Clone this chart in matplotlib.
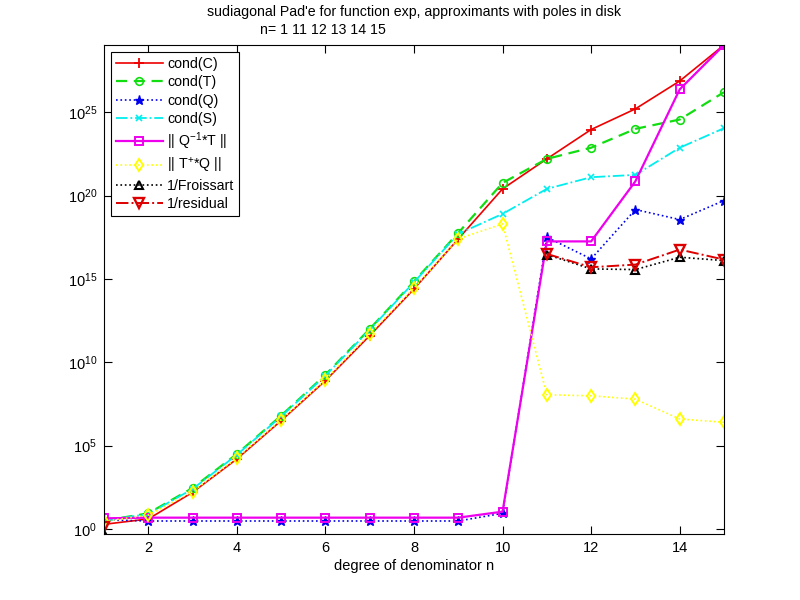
import numpy as np
import matplotlib
matplotlib.use("Agg")
import matplotlib.pyplot as plt
from matplotlib.ticker import FixedLocator, FixedFormatter, NullLocator

plt.rcParams['font.family'] = ['Liberation Sans', 'DejaVu Sans']
plt.rcParams['mathtext.default'] = 'regular'

n = np.arange(1, 16)
nan = np.nan
# log10 of the values
log_cond_C = [0.28, 0.6, 2.2, 4.2, 6.5, 8.9, 11.6, 14.4, 17.4, 20.4, 22.2, 23.96, 25.2, 26.87, 29.03]
log_cond_T = [0.5, 0.94, 2.46, 4.5, 6.8, 9.25, 12.0, 14.85, 17.76, 20.76, 22.2, 22.87, 24.0, 24.56, 26.2]
log_cond_Q = [0.55, 0.48, 0.48, 0.48, 0.48, 0.48, 0.48, 0.48, 0.48, 0.94, 17.5, 16.2, 19.16, 18.56, 19.7]
log_cond_S = [0.5, 0.9, 2.4, 4.45, 6.75, 9.2, 11.95, 14.8, 17.7, 18.9, 20.4, 21.1, 21.24, 22.87, 24.04]
log_QinvT = [0.64, 0.68, 0.68, 0.68, 0.68, 0.68, 0.68, 0.68, 0.68, 1.04, 17.25, 17.25, 20.86, 26.37, 29.03]
log_TplusQ = [0.45, 0.84, 2.24, 4.26, 6.55, 8.95, 11.7, 14.45, 17.4, 18.3, 8.05, 7.99, 7.79, 6.6, 6.4]
log_froissart = [-0.3, nan, nan, nan, nan, nan, nan, nan, nan, nan, 16.46, 15.6, 15.56, 16.3, 16.1]
log_residual = [0.14, nan, nan, nan, nan, nan, nan, nan, nan, nan, 16.5, 15.7, 15.86, 16.76, 16.16]

labels = ['cond(C)', 'cond(T)', 'cond(Q)', 'cond(S)',
          '|| Q$^{-1}$*T ||', '|| T$^{+}$*Q ||', '1/Froissart', '1/residual']
title1 = "sudiagonal Pad'e for function exp, approximants with poles in disk"
title2 = "n= 1 11 12 13 14 15"
xticks = [2, 4, 6, 8, 10, 12, 14]
ytick_exps = [0, 5, 10, 15, 20, 25]

series = [log_cond_C, log_cond_T, log_cond_Q, log_cond_S,
          log_QinvT, log_TplusQ, log_froissart, log_residual]
styles = [
    dict(color='#ee0000', ls='-', marker='+', lw=1.2, ms=7, mew=1.3),
    dict(color='#11dd11', ls=(0, (5, 3)), marker='o', lw=1.6, ms=5.5, mfc='none', mew=1.2),
    dict(color='#0000ee', ls=':', marker='*', lw=1.2, ms=6.5, mew=1.0),
    dict(color='#00eeee', ls='-.', marker='x', lw=1.3, ms=5, mew=1.2),
    dict(color='#ee00ee', ls='-', marker='s', lw=1.6, ms=6, mfc='none', mew=1.4),
    dict(color='#ffff00', ls=':', marker='d', lw=1.2, ms=6, mfc='none', mew=1.4),
    dict(color='black', ls=':', marker='^', lw=1.2, ms=6, mfc='none', mew=1.5),
    dict(color='#dd0000', ls='-.', marker='v', lw=1.4, ms=7, mfc='none', mew=1.7),
]

fig = plt.figure(figsize=(8, 6), dpi=100)
ax = fig.add_axes([0.13, 0.11, 0.775, 0.815])
for s, lab, st in zip(series, labels, styles):
    ax.semilogy(n, 10.0 ** np.array(s, dtype=float), label=lab, **st)

allv = np.concatenate([np.array(s, dtype=float) for s in series])
ax.set_xlim(1, 15)
ax.set_ylim(10 ** np.nanmin(allv), 10 ** np.nanmax(allv))

ax.xaxis.set_major_locator(FixedLocator(xticks))
ax.set_xticklabels([str(t) for t in xticks])
ax.yaxis.set_major_locator(FixedLocator([10.0 ** e for e in ytick_exps]))
ax.yaxis.set_major_formatter(FixedFormatter(['$10^{%d}$' % e for e in ytick_exps]))
ax.yaxis.set_minor_locator(NullLocator())
ax.xaxis.set_minor_locator(NullLocator())
ax.tick_params(direction='in', top=True, right=True, length=6, width=0.8,
               labelsize=10.5, pad=5)
for sp in ax.spines.values():
    sp.set_linewidth(0.8)

ax.set_xlabel('degree of denominator n', fontsize=10.5, labelpad=3)

leg = ax.legend(loc='upper left', fontsize=10.2, frameon=True, fancybox=False,
                edgecolor='black', framealpha=1, borderaxespad=0.5,
                handlelength=3.3, labelspacing=0.3, borderpad=0.35,
                handletextpad=0.3)
leg.get_frame().set_linewidth(0.8)

fig.text(414 / 800, 1 - 12 / 600, title1, ha='center', va='center', fontsize=10.2)
fig.text(260 / 800, 1 - 30 / 600, title2, ha='left', va='center', fontsize=10.2)

fig.savefig('out.png', dpi=100)
